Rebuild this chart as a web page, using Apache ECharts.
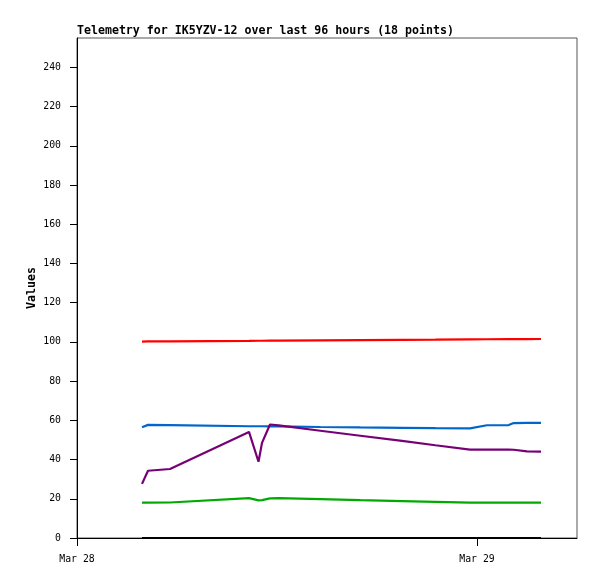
<!DOCTYPE html>
<html><head><meta charset="utf-8">
<script src="https://cdn.jsdelivr.net/npm/echarts@6/dist/echarts.min.js"></script>
<style>html,body{margin:0;padding:0;background:#fff}#c{width:597px;height:579px}</style>
</head><body><div id="c"></div>
<script>
// hours after Mar 28 00:00
var hours = [3.9, 4.26, 5.58, 10.32, 10.89, 11.1, 11.58, 12.1, 14.6, 17, 19.5, 21.5, 23.58, 24.6, 25.9, 26.2, 27.0, 27.84];
var redVals    = [100.2, 100.25, 100.3, 100.55, 100.6, 100.6, 100.65, 100.65, 100.8, 100.95, 101.05, 101.15, 101.3, 101.35, 101.4, 101.4, 101.45, 101.5];
var blueVals   = [56.5, 57.7, 57.6, 57.0, 57.0, 57.0, 56.9, 56.9, 56.6, 56.4, 56.2, 56.0, 55.9, 57.5, 57.6, 58.6, 58.7, 58.7];
var purpleVals = [27.6, 34.3, 35.2, 54.1, 38.9, 48.5, 57.9, 57.4, 54.7, 52.15, 49.5, 47.3, 45.1, 45.1, 45.1, 45.0, 44.2, 44.1];
var greenVals  = [18.0, 18.0, 18.1, 20.3, 19.2, 19.3, 20.2, 20.3, 19.8, 19.3, 18.8, 18.4, 18.0, 18.0, 18.0, 18.0, 18.0, 18.0];
var blackVals  = [0, 0, 0, 0, 0, 0, 0, 0, 0, 0, 0, 0, 0, 0, 0, 0, 0, 0];
var yTicks = [0, 20, 40, 60, 80, 100, 120, 140, 160, 180, 200, 220, 240];
var xTicks = [0, 24];
var xTickLabels = ['Mar 28', 'Mar 29'];
var yAxisTitle = 'Values';

function pairs(vals){ return hours.map(function(h,i){ return [h, vals[i]]; }); }
var font = '"DejaVu Sans Mono", monospace';
function ser(vals, color){
  return {type:'line', data:pairs(vals), symbol:'none', silent:true,
    lineStyle:{color:color, width:2.2}, itemStyle:{color:color}, animation:false};
}
var chart = echarts.init(document.getElementById('c'), null, {renderer:'canvas'});
chart.setOption({
  animation:false,
  backgroundColor:'#fff',
  title:{text:'Telemetry for IK5YZV-12 over last 96 hours (18 points)', left:77, top:25, padding:0,
    textStyle:{fontFamily:font, fontSize:11.6, fontWeight:'bold', color:'#000'}},
  graphic:[{type:'text', x:32, y:288, rotation:Math.PI/2, silent:true,
    style:{text:yAxisTitle, x:0, y:0, align:'center', verticalAlign:'middle',
      font:'bold 11.6px "DejaVu Sans Mono", monospace', fill:'#000'}}],
  grid:{left:77, top:38, right:20, bottom:41, show:true, borderColor:'#555', borderWidth:1, backgroundColor:'#fff'},
  xAxis:{type:'value', min:0, max:30,
    axisLine:{show:true, lineStyle:{color:'#000', width:1}},
    axisTick:{show:true, length:8, customValues:xTicks, lineStyle:{color:'#000'}},
    axisLabel:{customValues:xTicks, margin:16, fontFamily:font, fontSize:9.8, color:'#000',
      formatter:function(v){ var i = xTicks.indexOf(v); return i>=0 ? xTickLabels[i] : ''; }},
    splitLine:{show:false}},
  yAxis:{type:'value', min:0, max:255,
    axisLine:{show:true, lineStyle:{color:'#000', width:1}},
    axisTick:{show:true, length:7, customValues:yTicks, lineStyle:{color:'#000'}},
    axisLabel:{customValues:yTicks, margin:16, fontFamily:font, fontSize:9.8, color:'#000'},
    splitLine:{show:false}},
  series:[
    ser(blackVals,'#000000'),
    ser(greenVals,'#00aa00'),
    ser(blueVals,'#0066cc'),
    ser(purpleVals,'#770077'),
    ser(redVals,'#ff0000')
  ]
});
</script></body></html>
